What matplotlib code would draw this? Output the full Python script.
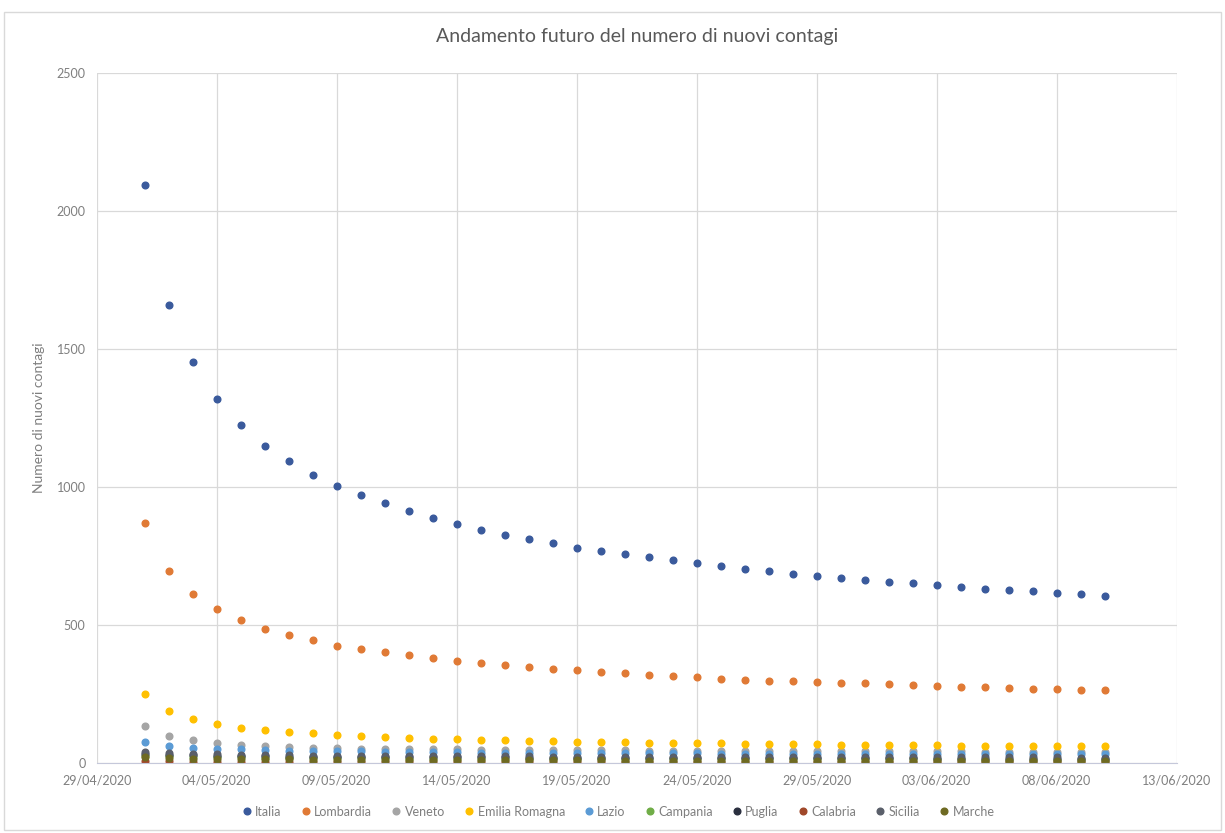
import matplotlib
matplotlib.use("Agg")
import matplotlib.pyplot as plt
import matplotlib.dates as mdates
import matplotlib.patches as patches
import pandas as pd

plt.rcParams['font.family'] = ['Lato', 'DejaVu Sans']

# Date della previsione (01/05/2020 - 10/06/2020)
date = pd.date_range("2020-05-01", "2020-06-10", freq="D")

regioni = ["Italia", "Lombardia", "Veneto", "Emilia Romagna", "Lazio",
           "Campania", "Puglia", "Calabria", "Sicilia", "Marche"]

italia = [2094, 1659, 1451, 1317, 1226, 1150, 1093, 1042, 1003, 970,
          941, 913, 887, 866, 845, 827, 813, 796, 781, 768,
          757, 745, 737, 726, 714, 704, 697, 686, 678, 672,
          664, 658, 651, 644, 638, 632, 626, 622, 616, 612, 605]
lombardia = [871, 697, 612, 558, 519, 486, 466, 446, 425, 413,
             402, 391, 380, 370, 362, 356, 349, 341, 338, 331,
             328, 320, 316, 312, 306, 303, 299, 297, 293, 292,
             290, 286, 282, 280, 277, 275, 272, 268, 268, 265, 264]
veneto = [136, 100, 84, 74, 66, 61, 58, 56, 54, 53,
          52, 51, 50, 50, 49, 49, 48, 48, 47, 47,
          47, 46, 46, 46, 45, 45, 45, 44, 44, 44,
          44, 43, 43, 43, 43, 42, 42, 42, 42, 41, 41]
emilia = [251, 190, 162, 143, 129, 121, 114, 108, 103, 99,
          95, 92, 89, 87, 85, 83, 81, 80, 78, 77,
          76, 75, 74, 73, 72, 71, 70, 69, 68, 67,
          66, 66, 65, 65, 64, 64, 63, 63, 62, 62, 61]
lazio = [78, 63, 57, 53, 50, 48, 46, 45, 44, 43,
         42, 41, 40, 40, 39, 39, 38, 38, 37, 37,
         37, 36, 36, 36, 35, 35, 35, 35, 34, 34,
         34, 34, 33, 33, 33, 33, 33, 32, 32, 32, 32]
campania = [28, 25, 23, 22, 21, 20, 19, 19, 18, 18,
            18, 17, 17, 17, 16, 16, 16, 16, 16, 15,
            15, 15, 15, 15, 15, 15, 14, 14, 14, 14,
            14, 14, 14, 14, 14, 13, 13, 13, 13, 13, 13]
puglia = [35, 31, 29, 27, 26, 25, 24, 24, 23, 23,
          22, 22, 22, 21, 21, 21, 20, 20, 20, 20,
          19, 19, 19, 19, 19, 19, 18, 18, 18, 18,
          18, 18, 18, 17, 17, 17, 17, 17, 17, 17, 17]
calabria = [8, 7, 6, 6, 6, 5, 5, 5, 5, 5,
            5, 4, 4, 4, 4, 4, 4, 4, 4, 4,
            4, 4, 3, 3, 3, 3, 3, 3, 3, 3,
            3, 3, 3, 3, 3, 3, 3, 3, 3, 3, 3]
sicilia = [40, 36, 34, 32, 31, 30, 29, 28, 28, 27,
           27, 26, 26, 26, 25, 25, 25, 24, 24, 24,
           24, 23, 23, 23, 23, 23, 22, 22, 22, 22,
           22, 22, 21, 21, 21, 21, 21, 21, 21, 20, 20]
marche = [22, 19, 17, 16, 15, 14, 14, 13, 13, 13,
          12, 12, 12, 12, 11, 11, 11, 11, 11, 11,
          10, 10, 10, 10, 10, 10, 10, 10, 10, 9,
          9, 9, 9, 9, 9, 9, 9, 9, 9, 9, 9]

serie = [italia, lombardia, veneto, emilia, lazio,
         campania, puglia, calabria, sicilia, marche]
colori = ["#3A5A9C", "#E07A35", "#A5A5A5", "#FFC000", "#5B9BD5",
          "#70AD47", "#2A2F3F", "#A0482A", "#5A5F6A", "#6E6A22"]

fig = plt.figure(figsize=(12.25, 8.33), dpi=100)
ax = fig.add_axes([0.0789, 0.0837, 0.8817, 0.829])

# Cornice dell'area del grafico
fig.patches.append(patches.Rectangle((0.003, 0.004), 0.994, 0.981,
                                     transform=fig.transFigure, fill=False,
                                     edgecolor="#D9D9D9", linewidth=1))

for nome, valori, col in zip(regioni, serie, colori):
    ax.plot(date, valori, linestyle="none", marker="o", markersize=4.8,
            color=col, label=nome)

ax.set_xlim(pd.Timestamp("2020-04-29"), pd.Timestamp("2020-06-13"))
ax.set_ylim(0, 2500)
ax.set_yticks(range(0, 2501, 500))
ax.set_xticks(pd.date_range("2020-04-29", "2020-06-13", freq="5D"))
ax.xaxis.set_major_formatter(mdates.DateFormatter("%d/%m/%Y"))

ax.grid(True, color="#D9D9D9", linewidth=0.9)
ax.set_axisbelow(True)
for s in ["top", "right", "left"]:
    ax.spines[s].set_visible(False)
ax.spines["bottom"].set_color("#C5C8DA")
ax.tick_params(length=0, labelsize=9, colors="#7F7F7F", pad=8)

ax.set_title("Andamento futuro del numero di nuovi contagi", fontsize=14,
             color="#595959", pad=22)
ax.set_ylabel("Numero di nuovi contagi", fontsize=10, color="#7F7F7F",
              labelpad=8)

fig.legend(loc="lower center", bbox_to_anchor=(0.505, 0.005), ncol=10,
           frameon=False, fontsize=9, handlelength=0.6, handletextpad=0.4,
           columnspacing=1.6, labelcolor="#7F7F7F")

fig.savefig("out.png", dpi=100)
